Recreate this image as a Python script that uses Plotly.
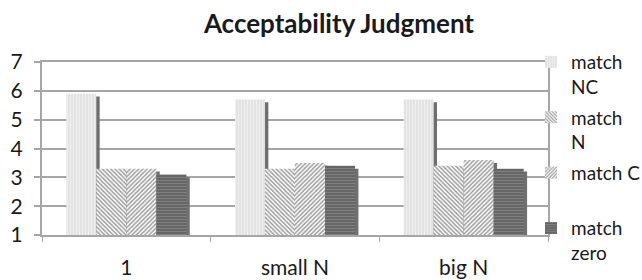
import plotly.graph_objects as go

categories = ["1", "small N", "big N"]
series_names = ["match<br>NC", "match<br>N", "match C<br>&nbsp;", "match<br>zero"]
match_nc = [5.9, 5.7, 5.7]
match_n = [3.3, 3.3, 3.4]
match_c = [3.3, 3.5, 3.6]
match_zero = [3.1, 3.4, 3.3]
y_ticks = [1, 2, 3, 4, 5, 6, 7]

values = [match_nc, match_n, match_c, match_zero]
patterns = [
    dict(shape="|", fgcolor="#fbfbfb", bgcolor="#e2e2e2", size=3, solidity=0.4),
    dict(shape="\\", fgcolor="#3c3c3c", bgcolor="#ffffff", size=3, solidity=0.5),
    dict(shape="/", fgcolor="#3c3c3c", bgcolor="#ffffff", size=3, solidity=0.5),
    dict(shape="-", fgcolor="#9a9a9a", bgcolor="#666666", size=3, solidity=0.35),
]
bar_w = 0.178
offsets = [-0.356, -0.178, 0.0, 0.178]
shadow_shift = 0.02
shadow_drop = 0.1

FONT = "Lato"
fig = go.Figure()
for i, (name, vals) in enumerate(zip(series_names, values)):
    fig.add_trace(go.Bar(
        x=categories, y=[v - shadow_drop for v in vals],
        offset=offsets[i] + shadow_shift, width=bar_w,
        marker=dict(color="#6f6f6f", line=dict(width=0)),
        showlegend=False, hoverinfo="skip",
    ))
    fig.add_trace(go.Bar(
        x=categories, y=vals, name=name,
        offset=offsets[i], width=bar_w,
        legendgroup="g%d" % i,
        marker=dict(color=patterns[i]["bgcolor"], line=dict(width=0), pattern=patterns[i]),
    ))

fig.update_layout(
    width=642, height=280,
    barmode="overlay",
    paper_bgcolor="white", plot_bgcolor="white",
    margin=dict(l=42, r=94, t=62, b=45, autoexpand=False),
    font=dict(family=FONT, size=20, color="#1a1a1a"),
    title=dict(text="<b>Acceptability Judgment</b>", x=0.528, xanchor="center",
               y=1 - 24 / 280, yanchor="middle", yref="container",
               font=dict(family=FONT, size=26, color="#1a1a1a")),
    legend=dict(x=531 / 642, xanchor="left", xref="container",
                y=1 - 43 / 280, yanchor="top", yref="container",
                bgcolor="rgba(0,0,0,0)", valign="top", maxheight=400,
                traceorder="grouped", tracegroupgap=3,
                font=dict(family=FONT, size=19, color="#1a1a1a")),
    showlegend=True,
)
fig.update_yaxes(range=[1, 7], tickvals=y_ticks, showgrid=True, gridcolor="#a6a6a6", gridwidth=2,
                 showline=True, linecolor="#a6a6a6", linewidth=2, mirror=True,
                 ticks="outside", ticklen=6, tickcolor="#a6a6a6", tickwidth=2,
                 ticklabelstandoff=7, tickfont=dict(size=21), zeroline=False, automargin=False)
fig.update_xaxes(showgrid=False, showline=True, linecolor="#a6a6a6", linewidth=2, mirror=True,
                 ticks="outside", ticklen=5, tickcolor="#a6a6a6", tickson="boundaries",
                 ticklabelstandoff=13, tickfont=dict(size=21), range=[-0.5, 2.5], automargin=False)

fig.write_html("out.html", config={"displayModeBar": False})
with open("out.html", encoding="utf-8") as f:
    html = f.read()
html = html.replace("<body>", "<body style=\"margin:0;padding:0;overflow:hidden\">", 1)
with open("out.html", "w", encoding="utf-8") as f:
    f.write(html)
